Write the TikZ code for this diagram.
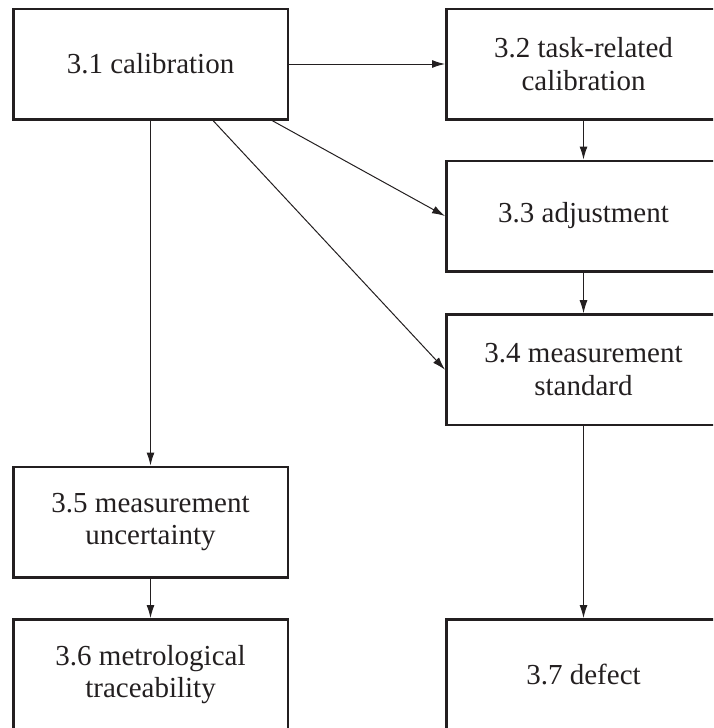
\documentclass[tikz,border=0pt]{standalone}
\usepackage{fontspec}
\setmainfont{Liberation Serif}
\usetikzlibrary{arrows.meta}
\definecolor{ink}{RGB}{35,31,32}

\begin{document}
\begin{tikzpicture}[x=1pt,y=1pt,
        box/.style={draw=ink,line width=2.5pt,minimum width=274.5pt,minimum height=110.5pt,
            align=center,text=ink,font=\fontsize{29}{32.5}\selectfont},
        link/.style={draw=ink,line width=1pt,-{Latex[length=13pt,width=8pt]}}]
    \useasboundingbox (0,0) rectangle (713,-728);
    \clip (0,0) rectangle (713,-728);
    % left column
    \node [box] (cal)   at (150.5,-64)  {3.1 calibration};
    \node [box] (unc)   at (150.5,-522) {3.5 measurement\\uncertainty};
    \node [box] (trace) at (150.5,-674.5) {3.6 metrological\\traceability};
    % right column
    \node [box] (task)   at (583.5,-64)  {3.2 task-related\\calibration};
    \node [box] (adj)    at (583.5,-216) {3.3 adjustment};
    \node [box] (std)    at (583.5,-369.7) {3.4 measurement\\standard};
    \node [box] (defect) at (583.5,-674.5) {3.7 defect};
    % connectors
    \draw [link] (cal) -- (task);
    \draw [link] (task) -- (adj);
    \draw [link] (adj) -- (std);
    \draw [link] (std) -- (defect);
    \draw [link] (cal) -- (unc);
    \draw [link] (unc) -- (trace);
    \draw [link] ([xshift=121.5pt]cal.south) -- (adj.west);
    \draw [link] ([xshift=62.5pt]cal.south) -- (std.west);
\end{tikzpicture}
\end{document}
